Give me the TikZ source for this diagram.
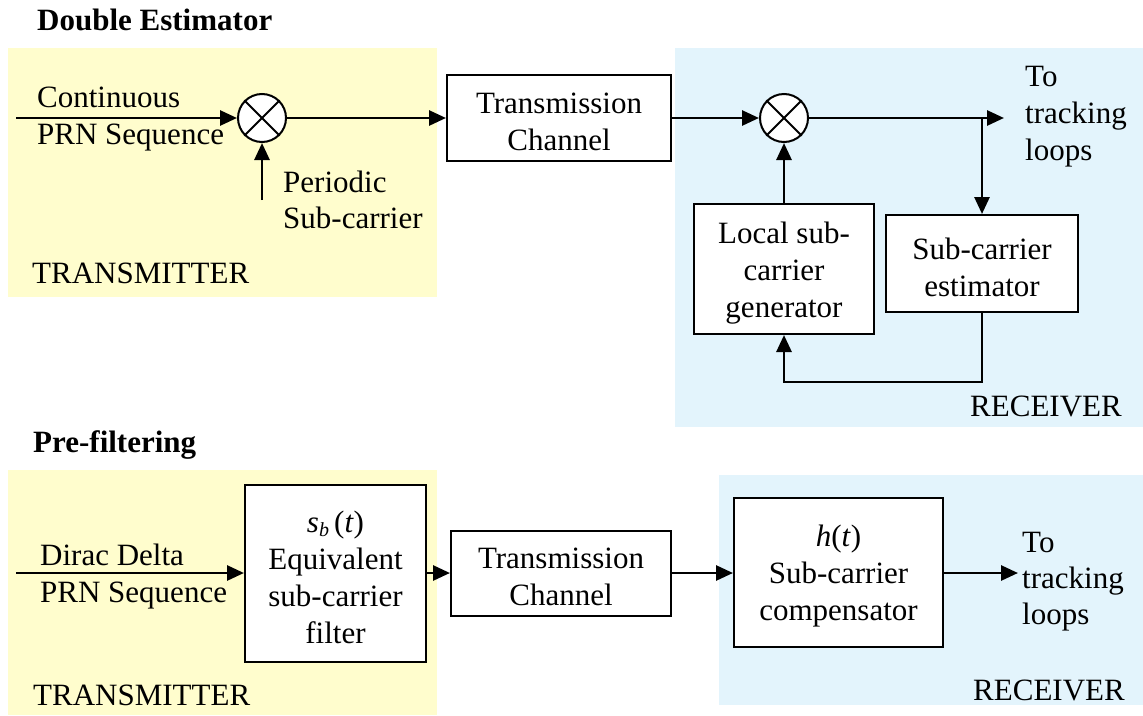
\documentclass[tikz,border=0pt]{standalone}
\usepackage{fontspec}
\setmainfont{Liberation Serif}
\usetikzlibrary{arrows.meta}
\definecolor{txyellow}{RGB}{255,253,205}
\definecolor{rxblue}{RGB}{227,244,252}
\newcommand{\tstr}{\rule{0pt}{29pt}}
\begin{document}
\begin{tikzpicture}[x=1pt,y=-1pt,
  every node/.style={font=\fontsize{31}{37}\selectfont, inner sep=0pt},
  blk/.style={draw, line width=2pt, fill=white, align=center},
  mix/.style={draw, circle, line width=2pt, fill=white, minimum size=48pt},
  conn/.style={line width=2.8pt, -{Triangle[length=17pt,width=15pt]}},
  lbl/.style={anchor=base west},
  ttl/.style={anchor=base west, font=\fontsize{31}{37}\selectfont\bfseries}]

\useasboundingbox (0,0) rectangle (1143,715);
% regions
\fill[txyellow] (8,48) rectangle (437,297);
\fill[rxblue] (675,48) rectangle (1143,427);
\fill[txyellow] (8,470) rectangle (437,715);
\fill[rxblue] (719,475) rectangle (1143,705);

% ---------------- Double Estimator ----------------
\node[ttl] (t1) at (37,30) {Double Estimator};
\node[mix] (m1) at (262,118) {};
\draw[line width=2pt] (m1.north west) -- (m1.south east) (m1.north east) -- (m1.south west);
\coordinate (in1) at (16,118);
\coordinate (ps) at (262,200);
\node[blk, minimum width=224pt, minimum height=86pt] (tc1) at (559,118) {\tstr Transmission\\Channel};
\node[mix] (m2) at (784,118) {};
\draw[line width=2pt] (m2.north west) -- (m2.south east) (m2.north east) -- (m2.south west);
\node[blk, minimum width=180pt, minimum height=130pt] (gen) at (784,269) {\tstr Local sub-\\carrier\\generator};
\node[blk, minimum width=192pt, minimum height=97pt] (est) at (982,263.5) {\tstr Sub-carrier\\estimator};
\coordinate (out1) at (1004,118);
\coordinate (br) at (982,118);
\coordinate (fbr) at (982,382);

\draw[conn] (in1) -- (m1.west);
\draw[conn] (ps) -- (m1.south);
\draw[conn] (m1.east) -- (tc1.west);
\draw[conn] (tc1.east) -- (m2.west);
\draw[conn] (m2.east) -- (out1);
\draw[conn] (br) -- (est.north);
\draw[conn] (gen.north) -- (m2.south);
\draw[conn] (est.south) -- (fbr) -| (gen.south);

\node[lbl] (l1a) at (37,107) {Continuous};
\node[lbl] (l1b) at (37,144) {PRN Sequence};
\node[lbl] (l2a) at (283,192) {Periodic};
\node[lbl] (l2b) at (283,228) {Sub-carrier};
\node[lbl] (tx1) at (32,283) {TRANSMITTER};
\node[lbl] (o1a) at (1025,86) {To};
\node[lbl] (o1b) at (1025,123) {tracking};
\node[lbl] (o1c) at (1025,160) {loops};
\node[lbl] (rx1) at (970,416) {RECEIVER};

% ---------------- Pre-filtering ----------------
\node[ttl] (t2) at (33,452) {Pre-filtering};
\coordinate (in2) at (16,573);
\node[blk, minimum width=181pt, minimum height=177pt] (flt) at (335.5,573.5)
  {\tstr\textit{s}\raisebox{-0.3ex}{\fontsize{20}{20}\selectfont\textit{b}}\,(\textit{t})\\Equivalent\\sub-carrier\\filter};
\node[blk, minimum width=220pt, minimum height=85pt] (tc2) at (561,573) {\tstr Transmission\\Channel};
\node[blk, minimum width=209pt, minimum height=149pt] (cmp) at (838.5,572.5) {\tstr\textit{h}(\textit{t})\\Sub-carrier\\compensator};
\coordinate (out2) at (1018,573);

\draw[conn] (in2) -- (in2 -| flt.west);
\draw[conn] (flt.east |- tc2.west) -- (tc2.west);
\draw[conn] (tc2.east) -- (tc2.east -| cmp.west);
\draw[conn] (cmp.east |- out2) -- (out2);

\node[lbl] (l3a) at (40,565) {Dirac Delta};
\node[lbl] (l3b) at (40,602) {PRN Sequence};
\node[lbl] (tx2) at (33,705) {TRANSMITTER};
\node[lbl] (o2a) at (1022,552) {To};
\node[lbl] (o2b) at (1022,588) {tracking};
\node[lbl] (o2c) at (1022,624) {loops};
\node[lbl] (rx2) at (973,700) {RECEIVER};
\end{tikzpicture}
\end{document}
